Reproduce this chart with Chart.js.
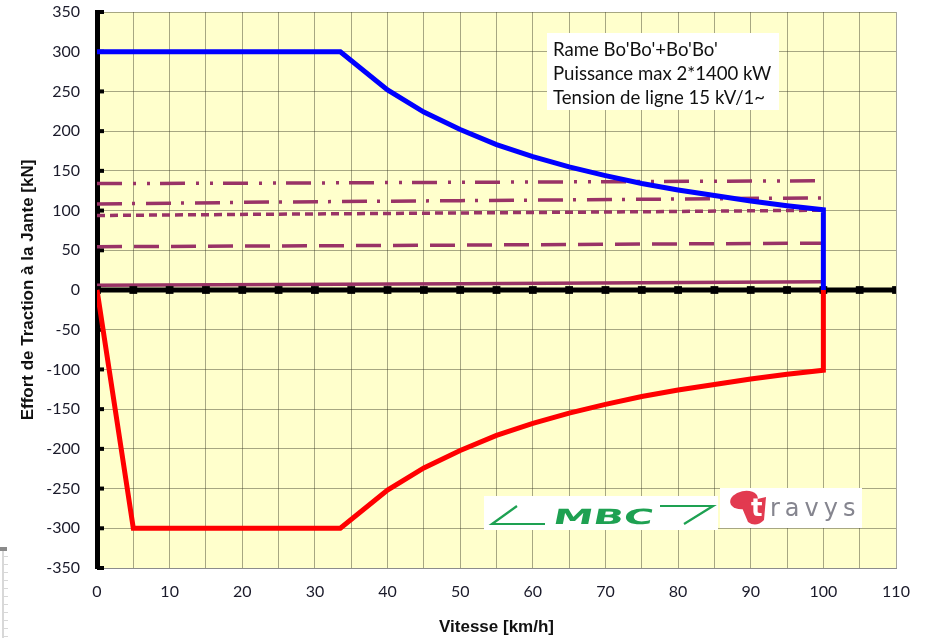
<!DOCTYPE html>
<html>
<head>
<meta charset="utf-8">
<script src="https://cdn.jsdelivr.net/npm/chart.js@4.4.0/dist/chart.umd.min.js"></script>
<style>
    html, body { margin: 0; padding: 0; background: #fff; }
    #wrap { width: 926px; height: 638px; }
</style>
</head>
<body>
<div id="wrap"><canvas id="myChart" width="926" height="638"></canvas></div>
<script>
// traction effort (blue) and braking effort (red)
var speedTraction = [0, 33.5, 40, 45, 50, 55, 60, 65, 70, 75, 80, 85, 90, 95, 100, 100];
var effortTraction = [300, 300, 252, 224, 202, 183, 168, 155, 144, 134, 126, 119, 112, 106, 101, 0];
var speedBrake = [0, 5, 33.5, 40, 45, 50, 55, 60, 65, 70, 75, 80, 85, 90, 95, 100, 100];
var effortBrake = [0, -300, -300, -252, -224, -202, -183, -168, -155, -144, -134, -126, -119, -112, -106, -101, 0];

// resistance curves (purple)
var speedResist = [0, 25, 50, 75, 100];
var resistDashDotDot = [134, 134.6, 135.6, 136.5, 137.5];
var resistDashDot = [108.3, 110.8, 112.5, 114.2, 116];
var resistShortDash = [93.8, 95.5, 97, 98.5, 100.5];
var resistDash = [54.5, 55.5, 56.5, 57.8, 59];
var resistSolid = [6, 6.8, 7.8, 9, 10.5];

// zero axis with markers
var axisSpeeds = [0, 5, 10, 15, 20, 25, 30, 35, 40, 45, 50, 55, 60, 65, 70, 75, 80, 85, 90, 95, 100, 105, 110];
var axisZero = [0, 0, 0, 0, 0, 0, 0, 0, 0, 0, 0, 0, 0, 0, 0, 0, 0, 0, 0, 0, 0, 0, 0];

var infoLines = ["Rame Bo'Bo'+Bo'Bo'", "Puissance max 2*1400 kW", "Tension de ligne 15 kV/1~"];

function pts(xs, ys) {
    return xs.map(function(x, i) { return {x: x, y: ys[i]}; });
}

var purple = '#993366';
var gridColor = 'rgba(60,60,40,0.45)';

var bgPlugin = {
    id: 'bg',
    beforeDraw: function(chart) {
        var ctx = chart.ctx, a = chart.chartArea;
        ctx.save();
        ctx.fillStyle = '#FFFFCC';
        ctx.fillRect(a.left, a.top, a.right - a.left, a.bottom - a.top);
        // little spreadsheet remnant bottom-left
        ctx.fillStyle = '#8a8a8a';
        ctx.fillRect(0, 547, 7, 4);
        ctx.fillStyle = '#d8d8d8';
        ctx.fillRect(2, 551, 2, 87);
        for (var yy = 556; yy < 638; yy += 8) ctx.fillRect(2, yy, 6, 1);
        ctx.restore();
    },
    beforeDatasetsDraw: function(chart) {
        // inside tick marks on the y axis
        var ctx = chart.ctx, ys = chart.scales.y, a = chart.chartArea;
        ctx.save();
        ctx.fillStyle = '#000';
        ys.ticks.forEach(function(t) {
            var py = ys.getPixelForValue(t.value);
            ctx.fillRect(a.left, py - 2, 7, 4);
        });
        ctx.restore();
    },
    afterDraw: function(chart) {
        var ctx = chart.ctx;
        ctx.save();
        // info box
        ctx.fillStyle = '#fff';
        ctx.fillRect(547, 33, 232, 77);
        ctx.font = '18px Lato';
        var w = ctx.measureText(infoLines[1]).width;
        var fs = 18 * 218 / w;
        ctx.font = fs.toFixed(1) + 'px Lato';
        ctx.fillStyle = '#111';
        ctx.textBaseline = 'middle';
        ctx.textAlign = 'left';
        infoLines.forEach(function(s, i) { ctx.fillText(s, 553, 50 + i * 24); });

        // MBC logo
        ctx.fillStyle = '#fff';
        ctx.fillRect(484, 496, 234, 34);
        ctx.strokeStyle = '#1ea152';
        ctx.lineWidth = 2.2;
        ctx.beginPath();
        ctx.moveTo(517, 506); ctx.lineTo(492, 524); ctx.lineTo(545, 524);
        ctx.moveTo(660, 506); ctx.lineTo(713, 506); ctx.lineTo(684, 524);
        ctx.stroke();
        ctx.fillStyle = '#1ea152';
        ctx.save();
        ctx.translate(552, 524);
        ctx.transform(1, 0, -0.2, 1, 0, 0);
        ctx.font = 'bold 21px "DejaVu Sans"';
        var mw = ctx.measureText('MBC').width;
        ctx.scale(100 / mw, 1);
        ctx.textBaseline = 'alphabetic';
        ctx.fillText('MBC', 0, 0);
        ctx.restore();

        // travys logo
        ctx.fillStyle = '#fff';
        ctx.fillRect(720, 488, 142, 40);
        ctx.fillStyle = '#e23a50';
        ctx.beginPath();
        ctx.ellipse(744, 500, 14, 9, -0.2, 0, Math.PI * 2);
        ctx.fill();
        ctx.beginPath();
        ctx.moveTo(740, 503); ctx.lineTo(766, 497); ctx.lineTo(764, 520);
        ctx.quadraticCurveTo(756, 528, 748, 522);
        ctx.closePath();
        ctx.fill();
        ctx.font = 'bold 24px "DejaVu Sans"';
        ctx.textBaseline = 'alphabetic';
        ctx.fillStyle = '#fff';
        ctx.fillText('t', 751, 516);
        ctx.fillStyle = '#85858f';
        ctx.letterSpacing = '5px';
        ctx.font = '24px "DejaVu Sans"';
        ctx.fillText('ravys', 770, 516);
        ctx.restore();
    }
};

var chr = document.getElementById('myChart').getContext('2d');
var myChart = new Chart(chr, {
    type: 'scatter',
    data: {
        datasets: [{
            label: 'Traction',
            data: pts(speedTraction, effortTraction),
            showLine: true,
            borderColor: '#0000FF',
            borderWidth: 5,
            pointRadius: 0,
            order: 0
        }, {
            label: 'Freinage',
            data: pts(speedBrake, effortBrake),
            showLine: true,
            borderColor: '#FF0000',
            borderWidth: 5,
            pointRadius: 0,
            order: 1
        }, {
            label: 'Axe',
            data: pts(axisSpeeds, axisZero),
            showLine: true,
            borderColor: '#000',
            borderWidth: 5,
            pointStyle: 'rect',
            pointRadius: 5.5,
            pointBackgroundColor: '#000',
            pointBorderWidth: 0,
            order: 2
        }, {
            label: 'R1',
            data: pts(speedResist, resistDashDotDot),
            showLine: true,
            borderColor: purple,
            borderWidth: 3.5,
            borderDash: [25, 11, 3, 11, 3, 10],
            pointRadius: 0,
            order: 3
        }, {
            label: 'R2',
            data: pts(speedResist, resistDashDot),
            showLine: true,
            borderColor: purple,
            borderWidth: 3.5,
            borderDash: [25, 10, 3, 11],
            pointRadius: 0,
            order: 4
        }, {
            label: 'R3',
            data: pts(speedResist, resistShortDash),
            showLine: true,
            borderColor: purple,
            borderWidth: 3.5,
            borderDash: [8, 5],
            pointRadius: 0,
            order: 5
        }, {
            label: 'R4',
            data: pts(speedResist, resistDash),
            showLine: true,
            borderColor: purple,
            borderWidth: 3.5,
            borderDash: [25, 12],
            pointRadius: 0,
            order: 6
        }, {
            label: 'R5',
            data: pts(speedResist, resistSolid),
            showLine: true,
            borderColor: purple,
            borderWidth: 3.5,
            pointRadius: 0,
            order: 7
        }]
    },
    options: {
        responsive: false,
        animation: false,
        events: [],
        layout: { padding: { left: 0, right: 30, top: 12, bottom: 0 } },
        plugins: {
            legend: { display: false },
            tooltip: { enabled: false }
        },
        scales: {
            x: {
                type: 'linear',
                min: 0,
                max: 110,
                afterFit: function(s) { s.height = 70; s.paddingLeft = 0; s.paddingRight = 0; },
                ticks: {
                    stepSize: 5,
                    autoSkip: false,
                    maxRotation: 0,
                    padding: 14,
                    color: '#1a1a2a',
                    font: { family: 'Lato', size: 16 },
                    callback: function(v) { return v % 10 === 0 ? v : ''; }
                },
                grid: { color: gridColor, lineWidth: 1, drawTicks: false },
                border: { color: '#8c8c8c', width: 1 },
                title: {
                    display: true,
                    text: 'Vitesse [km/h]',
                    color: '#111',
                    font: { family: 'Liberation Sans', size: 17, weight: 'bold' },
                    padding: { top: 0, bottom: 0 }
                }
            },
            y: {
                min: -350,
                max: 350,
                afterFit: function(s) { s.width = 97; s.paddingTop = 0; s.paddingBottom = 0; },
                ticks: {
                    stepSize: 50,
                    padding: 17,
                    color: '#1a1a2a',
                    font: { family: 'Lato', size: 16 }
                },
                grid: { color: gridColor, lineWidth: 1, drawTicks: false },
                border: { color: '#000', width: 5 },
                title: {
                    display: true,
                    text: 'Effort de Traction à la Jante [kN]',
                    color: '#111',
                    font: { family: 'Liberation Sans', size: 17, weight: 'bold' },
                    padding: { top: 18, bottom: 0 }
                }
            }
        }
    },
    plugins: [bgPlugin]
});
</script>
</body>
</html>
